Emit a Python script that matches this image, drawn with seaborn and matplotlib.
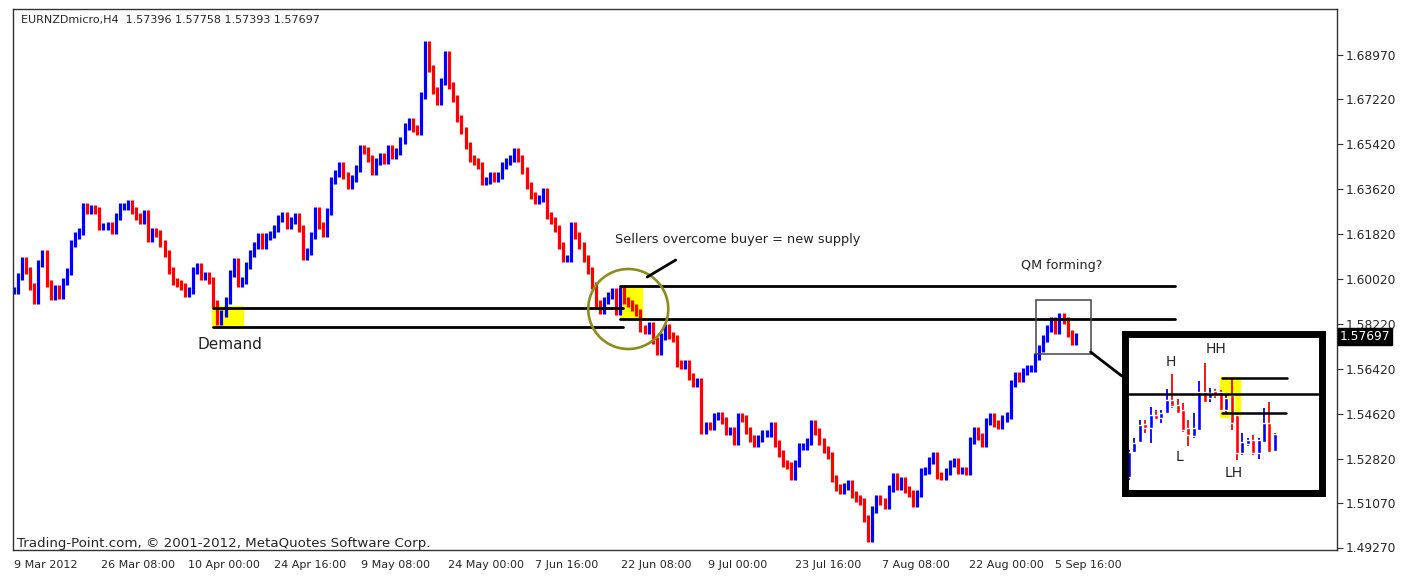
import numpy as np
import pandas as pd
import matplotlib
matplotlib.use("Agg")
import matplotlib.pyplot as plt
import seaborn as sns
from matplotlib.patches import Rectangle, Ellipse

# EURNZD H4 path, one close every 3 bars
closes = [
    1.5957, 1.6010, 1.6077, 1.6037, 1.5970, 1.5917, 1.6064, 1.6104, 1.5984, 1.5930,
    1.5964, 1.5937, 1.5990, 1.6030, 1.6144, 1.6177, 1.6190, 1.6290, 1.6277, 1.6284,
    1.6277, 1.6210, 1.6210, 1.6217, 1.6197, 1.6250, 1.6290, 1.6290, 1.6304, 1.6277,
    1.6250, 1.6237, 1.6264, 1.6164, 1.6190, 1.6184, 1.6144, 1.6104, 1.6037, 1.5990,
    1.5984, 1.5970, 1.5944, 1.5957, 1.6037, 1.6050, 1.6010, 1.6017, 1.5997, 1.5904,
    1.5830, 1.5864, 1.5917, 1.6024, 1.6070, 1.5984, 1.5997, 1.6057, 1.6104, 1.6137,
    1.6170, 1.6137, 1.6170, 1.6180, 1.6204, 1.6244, 1.6257, 1.6217, 1.6237, 1.6250,
    1.6204, 1.6090, 1.6110, 1.6177, 1.6277, 1.6217, 1.6184, 1.6270, 1.6397, 1.6424,
    1.6457, 1.6417, 1.6377, 1.6404, 1.6444, 1.6524, 1.6517, 1.6484, 1.6430, 1.6470,
    1.6490, 1.6477, 1.6524, 1.6497, 1.6510, 1.6557, 1.6610, 1.6630, 1.6604, 1.6590,
    1.6737, 1.6940, 1.6844, 1.6757, 1.6710, 1.6790, 1.6900, 1.6777, 1.6724, 1.6644,
    1.6597, 1.6537, 1.6484, 1.6470, 1.6457, 1.6390, 1.6397, 1.6417, 1.6404, 1.6417,
    1.6457, 1.6470, 1.6484, 1.6510, 1.6484, 1.6437, 1.6377, 1.6337, 1.6317, 1.6324,
    1.6350, 1.6257, 1.6237, 1.6204, 1.6137, 1.6084, 1.6084, 1.6217, 1.6177, 1.6137,
    1.6084, 1.6037, 1.5977, 1.5904, 1.5877, 1.5917, 1.5937, 1.5950, 1.5870, 1.5955,
    1.5917, 1.5904, 1.5888, 1.5866, 1.5804, 1.5797, 1.5817, 1.5757, 1.5710, 1.5770,
    1.5808, 1.5777, 1.5764, 1.5664, 1.5657, 1.5664, 1.5610, 1.5584, 1.5590, 1.5397,
    1.5417, 1.5410, 1.5450, 1.5457, 1.5437, 1.5390, 1.5397, 1.5350, 1.5450, 1.5444,
    1.5397, 1.5364, 1.5344, 1.5364, 1.5384, 1.5384, 1.5417, 1.5344, 1.5304, 1.5264,
    1.5257, 1.5210, 1.5264, 1.5330, 1.5330, 1.5350, 1.5424, 1.5390, 1.5350, 1.5320,
    1.5297, 1.5204, 1.5168, 1.5157, 1.5170, 1.5184, 1.5141, 1.5124, 1.5110, 1.5044,
    1.4965, 1.5080, 1.5124, 1.5110, 1.5097, 1.5164, 1.5210, 1.5170, 1.5197, 1.5160,
    1.5144, 1.5104, 1.5144, 1.5230, 1.5237, 1.5277, 1.5297, 1.5217, 1.5210, 1.5230,
    1.5264, 1.5270, 1.5237, 1.5237, 1.5230, 1.5357, 1.5397, 1.5370, 1.5344, 1.5430,
    1.5450, 1.5424, 1.5417, 1.5444, 1.5457, 1.5584, 1.5617, 1.5604, 1.5630, 1.5644,
    1.5644, 1.5690, 1.5724, 1.5764, 1.5804, 1.5837, 1.5797, 1.5850, 1.5837, 1.5784,
    1.5750, 1.5770,
]
bars_per_step = 3
wick = 0.0014   # drawn bar range beyond open/close

tick_bars = [0, 64, 128, 192, 256, 320, 384, 448, 512, 576, 640, 704, 768]
tick_labels = ["9 Mar 2012", "26 Mar 08:00", "10 Apr 00:00", "24 Apr 16:00",
               "9 May 08:00", "24 May 00:00", "7 Jun 16:00", "22 Jun 08:00",
               "9 Jul 00:00", "23 Jul 16:00", "7 Aug 08:00", "22 Aug 00:00",
               "5 Sep 16:00"]
price_ticks = [1.68970, 1.67220, 1.65420, 1.63620, 1.61820, 1.60020, 1.58220,
               1.56420, 1.54620, 1.52820, 1.51070, 1.49270]
last_bar = [1.57396, 1.57758, 1.57393, 1.57697]

# zones: (bar start, bar end, price low, price high)
demand_box = (146, 169, 1.5809, 1.5894)
supply_box = (447, 463, 1.5849, 1.5969)
demand_lines = [1.5886, 1.5808]
demand_span = (147, 449)
supply_lines = [1.5973, 1.5841]
supply_span = (447, 856)
qm_box = (754, 794, 1.5701, 1.5917)

# zoomed QM candles (inset)
ins_open = [1.5725, 1.5760, 1.5774, 1.5799, 1.5793, 1.5812, 1.5807, 1.5815, 1.5833, 1.5826,
            1.5819, 1.5793, 1.5782, 1.5791, 1.5844, 1.5836, 1.5846, 1.5844, 1.5819, 1.5840,
            1.5812, 1.5758, 1.5771, 1.5776, 1.5759, 1.5774, 1.5800, 1.5761]
ins_close = [1.5760, 1.5772, 1.5798, 1.5793, 1.5812, 1.5806, 1.5815, 1.5833, 1.5824, 1.5815,
             1.5791, 1.5784, 1.5794, 1.5844, 1.5830, 1.5843, 1.5840, 1.5819, 1.5835, 1.5800,
             1.5758, 1.5774, 1.5776, 1.5758, 1.5776, 1.5800, 1.5760, 1.5785]
ins_high = [1.5762, 1.5779, 1.5805, 1.5805, 1.5823, 1.5819, 1.5819, 1.5848, 1.5869, 1.5834,
            1.5828, 1.5805, 1.5815, 1.5859, 1.5884, 1.5849, 1.5848, 1.5847, 1.5840, 1.5862,
            1.5814, 1.5786, 1.5779, 1.5783, 1.5779, 1.5821, 1.5830, 1.5786]
ins_low = [1.5720, 1.5758, 1.5772, 1.5786, 1.5772, 1.5805, 1.5800, 1.5813, 1.5822, 1.5813,
           1.5788, 1.5768, 1.5779, 1.5790, 1.5828, 1.5830, 1.5836, 1.5818, 1.5814, 1.5791,
           1.5749, 1.5756, 1.5768, 1.5756, 1.5750, 1.5772, 1.5759, 1.5760]
ins_level = 1.5841
ins_zone = (17.2, 29.0, 1.5814, 1.5863)

UP, DOWN = "#0000FF", "#FF0000"

sns.set_style("white")
plt.rcParams["font.family"] = ["DejaVu Sans"]

W, H = 1413, 577
fig = plt.figure(figsize=(W / 100, H / 100), dpi=100)
ax = fig.add_axes([13 / W, 27 / H, 1324 / W, 541 / H])

df = pd.DataFrame({"bar": np.arange(len(closes)) * bars_per_step, "close": closes})
df["open"] = df["close"].shift(1).fillna(df["close"])
df["lo"] = df[["open", "close"]].min(axis=1) - wick
df["hi"] = df[["open", "close"]].max(axis=1) + wick
df["col"] = np.where(df["close"] >= df["open"], UP, DOWN)
ax.vlines(df["bar"], df["lo"], df["hi"], colors=df["col"], lw=2.3, zorder=2)

# yellow zones
for b0, b1, p0, p1 in [demand_box, supply_box]:
    ax.add_patch(Rectangle((b0, p0), b1 - b0, p1 - p0, color="#FFFF00", zorder=1))
for p in demand_lines:
    ax.plot(demand_span, [p, p], color="black", lw=2, zorder=3)
for p in supply_lines:
    ax.plot(supply_span, [p, p], color="black", lw=2, zorder=3)

ax.add_patch(Ellipse((453, 1.5881), 59, 0.032, fill=False, ec="#8C8C1C", lw=1.9, zorder=4))
ax.plot([467, 488], [1.6009, 1.6077], color="black", lw=2, zorder=4)
ax.text(443, 1.6157, "Sellers overcome buyer = new supply", fontsize=9.3, color="#222222", va="center")
ax.text(743, 1.6057, "QM forming?", fontsize=9.2, color="#222222", va="center")
ax.text(135, 1.5737, "Demand", fontsize=11, color="#222222", va="center")

b0, b1, p0, p1 = qm_box
ax.add_patch(Rectangle((b0, p0), b1 - b0, p1 - p0, fill=False, ec="#444444", lw=1.1, zorder=4))
ax.plot([794, 817], [1.5709, 1.5613], color="black", lw=2, zorder=4, clip_on=False)

ax.set_xlim(-0.74, 975.7)
ax.set_ylim(1.4917, 1.7081)
ax.set_xticks(tick_bars)
ax.set_xticklabels(tick_labels, ha="left", fontsize=8)
ax.yaxis.tick_right()
ax.set_yticks(price_ticks)
ax.set_yticklabels([f"{v:.5f}" for v in price_ticks], fontsize=8.8)
ax.tick_params(axis="x", direction="out", length=5, width=0.8, pad=2, color="#333333")
ax.tick_params(axis="y", direction="out", length=4, width=0.8, pad=2, color="#333333")
for s in ax.spines.values():
    s.set_color("#333333")
    s.set_linewidth(1)

# current price tag
ax.annotate(f"{last_bar[3]:.5f}", xy=(1.0, last_bar[3]), xycoords=("axes fraction", "data"),
            xytext=(2, 0), textcoords="offset points", va="center", ha="left", fontsize=8.8,
            color="white", bbox=dict(boxstyle="square,pad=0.15", fc="black", ec="black"))

fig.text(21 / W, 1 - 20 / H, "EURNZDmicro,H4  " + " ".join(f"{v:.5f}" for v in last_bar),
         fontsize=8, va="center")
fig.text(17 / W, 1 - 543 / H, "Trading-Point.com, \u00a9 2001-2012, MetaQuotes Software Corp.",
         fontsize=9.6, va="center")

# inset with zoomed QM
ax2 = fig.add_axes([1124.5 / W, (H - 492.5) / H, 197 / W, 159 / H])
ax2.set_xlim(-0.83, 35.65)
ax2.set_ylim(1.5703, 1.5926)
ax2.set_xticks([])
ax2.set_yticks([])
for s in ax2.spines.values():
    s.set_color("black")
    s.set_linewidth(5)
z0, z1, zp0, zp1 = ins_zone
ax2.add_patch(Rectangle((16.9, 1.5809), 3.7, 1.5865 - 1.5809, color="#FFFF00", zorder=1))
k = np.arange(len(ins_open))
o, c = np.array(ins_open), np.array(ins_close)
col = np.where(c >= o, UP, DOWN)
ax2.vlines(k, ins_low, ins_high, colors=col, lw=1.3, zorder=2)
ax2.bar(k, np.abs(c - o), bottom=np.minimum(o, c), width=0.72, color=col, zorder=2)
ax2.axhline(ins_level, color="black", lw=1.8, zorder=3)
ax2.plot([z0, z0 + 12.1], [zp1, zp1], color="black", lw=1.8, zorder=3)
ax2.plot([z0, z1], [zp0, zp0], color="black", lw=1.8, zorder=3)
for x, y, s in [(7.8, 1.5886, "H"), (16.1, 1.5904, "HH"), (9.3, 1.5753, "L"), (19.3, 1.5730, "LH")]:
    ax2.text(x, y, s, fontsize=10, color="#222222", ha="center", va="center")

fig.savefig("out.png", dpi=100, facecolor="white")
